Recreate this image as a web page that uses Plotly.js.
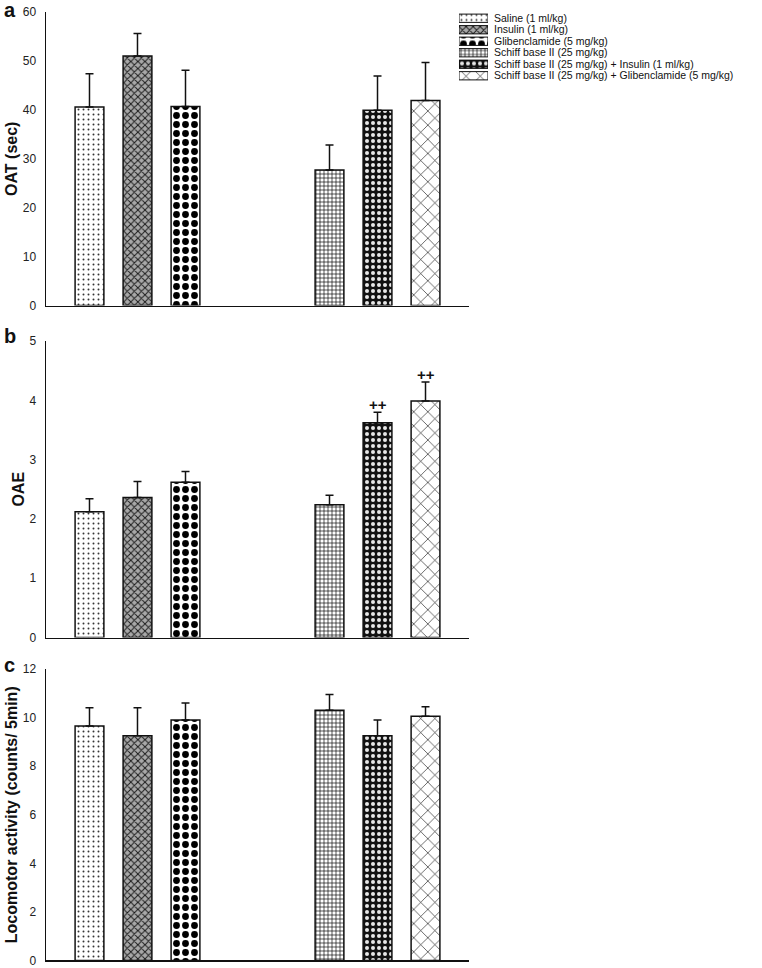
<!DOCTYPE html>
<html>
<head>
<meta charset="utf-8">
<script src="https://cdn.plot.ly/plotly-3.0.1.min.js"></script>
<style>html,body{margin:0;padding:0;background:#fff;} #chart{width:762px;height:968px;}</style>
</head>
<body>
<div id="chart"></div>
<script>
// ---- data ----
const treatments = [
  "Saline (1 ml/kg)",
  "Insulin (1 ml/kg)",
  "Glibenclamide (5 mg/kg)",
  "Schiff base II (25 mg/kg)",
  "Schiff base II (25 mg/kg) + Insulin (1 ml/kg)",
  "Schiff base II (25 mg/kg) + Glibenclamide (5 mg/kg)"
];
const oatMean  = [40.6, 51.0, 40.7, 27.7, 39.9, 41.9];
const oatSE    = [6.8, 4.6, 7.4, 5.1, 7.0, 7.8];
const oaeMean  = [2.12, 2.36, 2.62, 2.24, 3.62, 3.99];
const oaeSE    = [0.22, 0.27, 0.18, 0.16, 0.18, 0.32];
const oaeMarks = ["", "", "", "", "++", "++"];
const locoMean = [9.65, 9.25, 9.9, 10.3, 9.25, 10.05];
const locoSE   = [0.75, 1.15, 0.7, 0.65, 0.65, 0.4];
const panelLabels = ["a", "b", "c"];
const yTitles = ["OAT (sec)", "OAE", "Locomotor activity (counts/ 5min)"];

// ---- styles ----
const FONT = "Liberation Sans, Arial, Helvetica, sans-serif";
const patShape = [".", "x", ".", "+", ".", "x"];
const patFg    = ["#333", "#1a1a1a", "#000", "#000", "#e8e8e8", "#111"];
const patBg    = ["#fff", "#a8a8a8", "#fff", "#fff", "#111", "#fff"];
const patSize  = [5, 5, 9, 4, 6, 10];
const patSol   = [0.12, 0.35, 0.45, 0.3, 0.35, 0.12];

// category order with an empty gap between the two groups
const catOrder = treatments.slice(0, 3).concat([" ", "  "], treatments.slice(3));

function pattern() {
  return {shape: patShape, fgcolor: patFg, bgcolor: patBg, size: patSize, solidity: patSol, fillmode: "replace"};
}

const panels = [
  {mean: oatMean, se: oatSE, range: [0, 60], dtick: 10, dom: [0.6844, 0.9876]},
  {mean: oaeMean, se: oaeSE, range: [0, 5], dtick: 1, dom: [0.3414, 0.6477]},
  {mean: locoMean, se: locoSE, range: [0, 12], dtick: 2, dom: [0.00775, 0.3089]}
];

const traces = [];
const layout = {
  width: 762, height: 968,
  margin: {l: 46, r: 0, t: 0, b: 0},
  paper_bgcolor: "#fff", plot_bgcolor: "rgba(0,0,0,0)",
  showlegend: false,
  font: {family: FONT, color: "#111", size: 12},
  annotations: []
};
const XDOM = [0, 423 / 716];
const labelY = [0.9897, 0.653, 0.313];

panels.forEach((p, i) => {
  const n = i === 0 ? "" : String(i + 1);
  traces.push({
    type: "bar",
    x: treatments,
    y: p.mean,
    xaxis: "x" + n, yaxis: "y" + n,
    width: 0.6,
    marker: {color: "#fff", line: {color: "#111", width: 1.5}, pattern: pattern()},
    error_y: {type: "data", symmetric: false, array: p.se, arrayminus: p.se.map(() => 0),
              color: "#111", thickness: 1.5, width: 4},
    hoverinfo: "x+y"
  });
  layout["xaxis" + n] = {
    domain: XDOM, anchor: "y" + n, type: "category",
    categoryorder: "array", categoryarray: catOrder,
    range: [-0.906, 7.906], showticklabels: false, ticks: "",
    showline: true, linecolor: "#111", linewidth: 1.5,
    showgrid: false, zeroline: false
  };
  layout["yaxis" + n] = {
    domain: p.dom, anchor: "x" + n, range: p.range, dtick: p.dtick,
    ticks: "", ticklabelstandoff: 6, ticklabeloverflow: "allow",
    tickfont: {family: FONT, size: 12, color: "#222"},
    showline: true, linecolor: "#111", linewidth: 1.5,
    showgrid: false, zeroline: false,
    title: {text: yTitles[i], font: {family: FONT, size: 16, color: "#111", weight: "bold"}, standoff: 1}
  };
  layout.annotations.push({
    xref: "paper", yref: "paper", x: -0.0503, y: labelY[i],
    text: "<b>" + panelLabels[i] + "</b>", showarrow: false,
    font: {family: FONT, size: 20, color: "#111"}, xanchor: "center", yanchor: "middle"
  });
});

// significance marks on panel b
oaeMarks.forEach((m, k) => {
  if (!m) return;
  layout.annotations.push({
    xref: "x2", yref: "y2", x: treatments[k], y: oaeMean[k] + oaeSE[k],
    text: "<b>" + m + "</b>", showarrow: false, yanchor: "bottom", yshift: -3,
    font: {family: FONT, size: 15, color: "#111"}
  });
});

// legend drawn as a small patterned-swatch subplot
traces.push({
  type: "bar", orientation: "h",
  y: treatments, x: treatments.map(() => 1),
  xaxis: "x4", yaxis: "y4", width: 0.72,
  marker: {color: "#fff", line: {color: "#111", width: 1}, pattern: pattern()},
  hoverinfo: "y"
});
layout.xaxis4 = {domain: [0.5768, 0.6173], anchor: "y4", range: [0, 1], visible: false, fixedrange: true};
layout.yaxis4 = {
  domain: [0.9158, 0.9871], anchor: "x4", side: "right", type: "category",
  categoryorder: "array", categoryarray: treatments, range: [5.5, -0.5],
  tickmode: "array", tickvals: treatments, ticktext: treatments,
  ticks: "", ticklabelstandoff: 5, ticklabeloverflow: "allow",
  showline: false, showgrid: false, zeroline: false,
  tickfont: {family: FONT, size: 10.5, color: "#111"}
};

Plotly.newPlot("chart", traces, layout, {staticPlot: true, displayModeBar: false});
</script>
</body>
</html>
